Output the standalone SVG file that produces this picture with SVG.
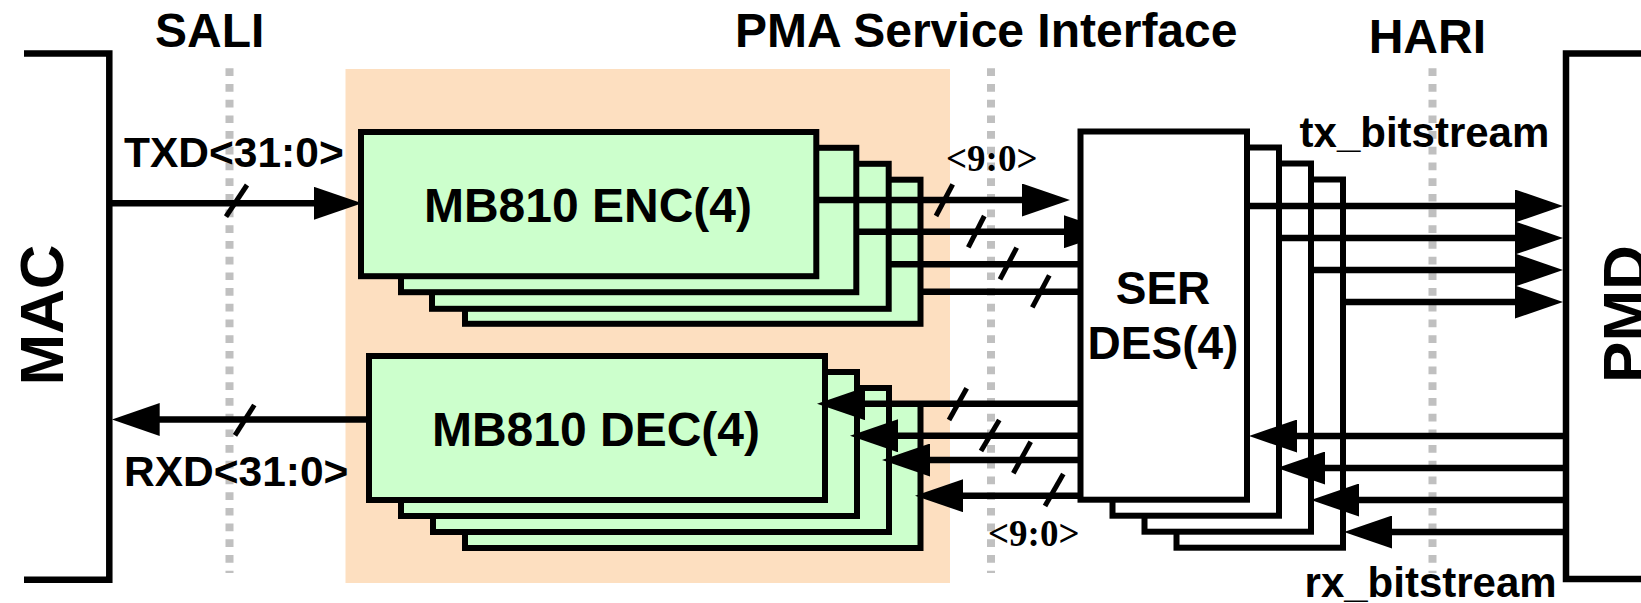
<svg xmlns="http://www.w3.org/2000/svg" width="1641" height="603" viewBox="0 0 1641 603">
<style>
.t{font-family:"Liberation Sans",Arial,sans-serif;font-weight:bold;fill:#000}
.s{font-family:"Liberation Serif","Times New Roman",serif;font-weight:bold;fill:#000}
.box{fill:#CCFFCC;stroke:#000;stroke-width:6}
.ser{fill:#FFFFFF;stroke:#000;stroke-width:6}
.br{fill:none;stroke:#000;stroke-width:6.5;stroke-linejoin:miter}
.ln{fill:none;stroke:#000;stroke-width:6.5;marker-end:url(#ah)}
.tk{fill:none;stroke:#000;stroke-width:5}
.ref{fill:none;stroke:#C0C0C0;stroke-width:8;stroke-dasharray:7.7 8}
</style>
<defs>
<marker id="ah" viewBox="0 0 48 33" refX="8" refY="16.5" markerWidth="48" markerHeight="33" markerUnits="userSpaceOnUse" orient="auto">
<path d="M0,0 L48,16.5 L0,33 z" fill="#000"/>
</marker>
<clipPath id="serclip"><rect x="0" y="0" width="1078" height="603"/></clipPath>
</defs>
<rect width="1641" height="603" fill="#FFFFFF"/>
<g id="pma-region"><rect x="345.5" y="69" width="604.5" height="514" fill="#FDDFC0"/></g>
<g id="interfaces">
<line class="ref" x1="229.5" y1="68.3" x2="229.5" y2="573"/>
<line class="ref" x1="991" y1="68.3" x2="991" y2="573"/>
<line class="ref" x1="1432.5" y1="68.3" x2="1432.5" y2="573"/>
<text class="t" x="155" y="47" font-size="48">SALI</text>
<text class="t" x="735" y="46.5" font-size="48">PMA Service Interface</text>
<text class="t" x="1486" y="53.3" font-size="48" text-anchor="end">HARI</text>
</g>
<g id="mac">
<path class="br" d="M24,53.5 H109.3 V579.7 H24"/>
<text class="t" font-size="62" text-anchor="middle" transform="translate(63,315) rotate(-90)">MAC</text>
</g>
<g id="pmd">
<path class="br" d="M1641,53.5 H1566 V579 H1641"/>
<text class="t" font-size="62" text-anchor="middle" transform="translate(1645.5,314) rotate(-90)">PMD</text>
</g>
<g id="enc">
<rect class="box" x="465" y="179.7" width="455.5" height="144.1"/>
<rect class="box" x="432" y="163.8" width="456.7" height="145"/>
<rect class="box" x="401" y="147.8" width="455.3" height="144.4"/>
<rect class="box" x="361" y="132" width="455.3" height="144.2"/>
<text class="t" x="588" y="222" font-size="48" text-anchor="middle">MB810 ENC(4)</text>
</g>
<g id="dec">
<rect class="box" x="465" y="404" width="455.5" height="144"/>
<rect class="box" x="433" y="388" width="456" height="144"/>
<rect class="box" x="401" y="372" width="456" height="144"/>
<rect class="box" x="369" y="356" width="456" height="144"/>
<text class="t" x="596" y="446" font-size="48" text-anchor="middle">MB810 DEC(4)</text>
</g>
<g id="serdes">
<rect class="ser" x="1176.5" y="179.5" width="166.5" height="368.2"/>
<rect class="ser" x="1144.5" y="163.5" width="166.5" height="368.2"/>
<rect class="ser" x="1112.5" y="147.5" width="166.5" height="368.2"/>
<rect class="ser" x="1080.5" y="131.5" width="166.5" height="368.2"/>
<text class="t" x="1163" y="304" font-size="46" text-anchor="middle">SER</text>
<text class="t" x="1163" y="359" font-size="46" text-anchor="middle">DES(4)</text>
</g>
<g id="connectors">
<path class="ln" d="M109.3,203.3 H322"/>
<line class="tk" x1="226" y1="216.7" x2="247" y2="185"/>
<path class="ln" d="M369,419.5 H151.7"/>
<line class="tk" x1="235" y1="435.3" x2="254.3" y2="405"/>
<path class="ln" d="M816,200 H1030"/>
<path class="ln" d="M856,231.7 H1072" clip-path="url(#serclip)"/>
<path class="ln" d="M888.7,264.2 H1104" clip-path="url(#serclip)"/>
<path class="ln" d="M920.5,291.7 H1136" clip-path="url(#serclip)"/>
<line class="tk" x1="936" y1="216" x2="952.7" y2="184.3"/>
<line class="tk" x1="968.3" y1="247.3" x2="984.3" y2="216"/>
<line class="tk" x1="1000" y1="279.3" x2="1016.7" y2="247.7"/>
<line class="tk" x1="1032.3" y1="307.3" x2="1049.3" y2="275.3"/>
<path class="ln" d="M1080,403.7 H857"/>
<path class="ln" d="M1080,435.8 H890"/>
<path class="ln" d="M1080,460 H922"/>
<path class="ln" d="M1080,495.7 H955"/>
<line class="tk" x1="949" y1="420" x2="966.7" y2="388.3"/>
<line class="tk" x1="981" y1="451" x2="999.3" y2="420"/>
<line class="tk" x1="1013.3" y1="473.3" x2="1030.7" y2="441.7"/>
<line class="tk" x1="1045" y1="506" x2="1063.3" y2="474"/>
<path class="ln" d="M1247,206 H1523"/>
<path class="ln" d="M1279,238 H1523"/>
<path class="ln" d="M1311,270 H1523"/>
<path class="ln" d="M1343,302 H1523"/>
<path class="ln" d="M1566,436 H1289"/>
<path class="ln" d="M1566,468 H1317"/>
<path class="ln" d="M1566,500 H1351"/>
<path class="ln" d="M1566,532 H1384"/>
</g>
<g id="labels">
<text class="t" x="124" y="166.7" font-size="42.5">TXD&lt;31:0&gt;</text>
<text class="t" x="124" y="486.3" font-size="42.5">RXD&lt;31:0&gt;</text>
<text class="s" x="946" y="170.5" font-size="37">&lt;9:0&gt;</text>
<text class="s" x="988" y="545.5" font-size="37">&lt;9:0&gt;</text>
<text class="t" x="1549.3" y="146.7" font-size="42" text-anchor="end">tx_bitstream</text>
<text class="t" x="1556.7" y="597" font-size="42" text-anchor="end">rx_bitstream</text>
</g>
</svg>
